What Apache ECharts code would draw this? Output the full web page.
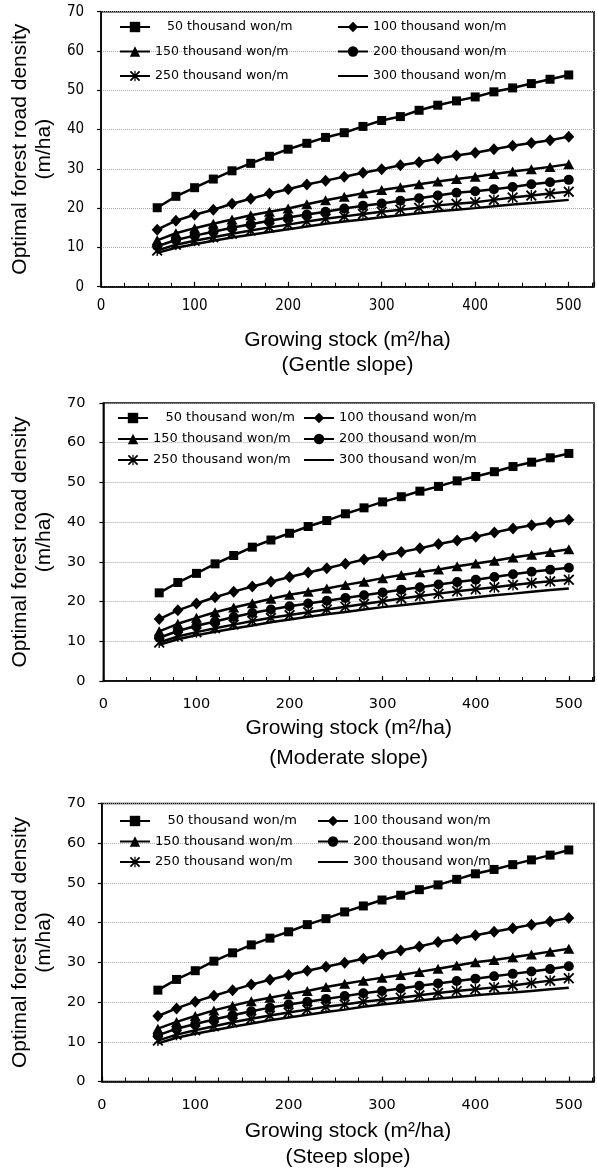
<!DOCTYPE html>
<html>
<head>
<meta charset="utf-8">
<script src="https://cdn.jsdelivr.net/npm/echarts@6/dist/echarts.min.js"></script>
<style>
  html, body { margin: 0; padding: 0; background: #fff; }
  #chart { width: 597px; height: 1176px; }
</style>
</head>
<body>
<div id="chart"></div>
<script>
// Growing stock (m³/ha) at which each road density was computed
const growingStock = [60, 80, 100, 120, 140, 160, 180, 200, 220, 240, 260, 280, 300, 320, 340, 360, 380, 400, 420, 440, 460, 480, 500];

// Road construction cost classes
const costLabels = ['50 thousand won/m', '100 thousand won/m', '150 thousand won/m',
                    '200 thousand won/m', '250 thousand won/m', '300 thousand won/m'];
const slopeLabels = ['(Gentle slope)', '(Moderate slope)', '(Steep slope)'];
const xAxisTitle = 'Growing stock (m\u00B2/ha)';
const yAxisTitle = 'Optimal forest road density\n(m/ha)';

// Optimal forest road density (m/ha), gentle slope
const gentle50  = [20.1, 23.0, 25.2, 27.4, 29.5, 31.4, 33.2, 35.0, 36.5, 38.0, 39.2, 40.8, 42.3, 43.3, 44.9, 46.2, 47.3, 48.3, 49.6, 50.6, 51.7, 52.8, 53.9];
const gentle100 = [14.5, 16.8, 18.3, 19.6, 21.1, 22.4, 23.7, 24.8, 26.0, 27.0, 28.0, 29.0, 29.9, 30.9, 31.7, 32.6, 33.4, 34.1, 35.0, 35.9, 36.6, 37.3, 38.2];
const gentle150 = [11.8, 13.6, 14.9, 16.0, 17.1, 18.2, 19.1, 19.9, 21.0, 22.0, 22.9, 23.8, 24.6, 25.3, 26.1, 26.8, 27.4, 28.0, 28.7, 29.3, 29.9, 30.5, 31.2];
const gentle200 = [10.3, 11.9, 13.0, 14.0, 15.0, 15.9, 16.8, 17.6, 18.4, 19.1, 19.9, 20.6, 21.2, 21.9, 22.5, 23.2, 23.9, 24.3, 24.8, 25.4, 26.1, 26.6, 27.2];
const gentle250 = [9.2, 10.7, 11.7, 12.6, 13.5, 14.3, 15.1, 15.8, 16.6, 17.3, 17.9, 18.5, 19.1, 19.6, 20.1, 20.7, 21.1, 21.5, 22.1, 22.7, 23.2, 23.7, 24.2];
const gentle300 = [8.6, 9.9, 10.8, 11.7, 12.5, 13.2, 13.9, 14.6, 15.3, 16.0, 16.6, 17.1, 17.7, 18.2, 18.7, 19.2, 19.6, 20.0, 20.5, 20.9, 21.3, 21.7, 22.1];

// Moderate slope
const moderate50  = [22.2, 24.8, 27.1, 29.5, 31.6, 33.7, 35.5, 37.2, 38.9, 40.4, 42.1, 43.6, 45.1, 46.4, 47.8, 49.0, 50.4, 51.5, 52.7, 54.0, 55.1, 56.2, 57.3];
const moderate100 = [15.6, 17.8, 19.5, 21.1, 22.5, 23.8, 25.0, 26.2, 27.3, 28.4, 29.5, 30.6, 31.6, 32.5, 33.4, 34.5, 35.4, 36.3, 37.4, 38.4, 39.2, 39.9, 40.6];
const moderate150 = [12.5, 14.4, 15.9, 17.3, 18.5, 19.6, 20.7, 21.7, 22.5, 23.3, 24.2, 25.0, 25.9, 26.7, 27.4, 28.1, 28.9, 29.6, 30.3, 31.1, 31.8, 32.5, 33.2];
const moderate200 = [10.9, 12.6, 13.9, 15.0, 16.1, 17.1, 18.0, 18.8, 19.5, 20.2, 20.9, 21.6, 22.3, 23.0, 23.6, 24.3, 24.9, 25.5, 26.2, 26.9, 27.5, 28.0, 28.5];
const moderate250 = [9.7, 11.2, 12.3, 13.3, 14.2, 15.1, 15.9, 16.6, 17.3, 18.0, 18.7, 19.4, 20.1, 20.8, 21.4, 22.0, 22.6, 23.1, 23.6, 24.2, 24.7, 25.1, 25.5];
const moderate300 = [9.1, 10.5, 11.5, 12.4, 13.2, 14.0, 14.8, 15.5, 16.2, 16.8, 17.4, 18.0, 18.6, 19.1, 19.6, 20.1, 20.6, 21.1, 21.6, 22.0, 22.5, 22.9, 23.3];

// Steep slope
const steep50  = [23.0, 25.7, 27.9, 30.3, 32.4, 34.4, 36.1, 37.7, 39.5, 41.0, 42.7, 44.2, 45.7, 46.9, 48.3, 49.5, 50.9, 52.3, 53.4, 54.6, 55.8, 57.0, 58.3];
const steep100 = [16.5, 18.4, 20.1, 21.6, 23.0, 24.4, 25.6, 26.8, 27.9, 28.9, 29.9, 30.9, 32.0, 33.0, 34.0, 35.1, 35.9, 36.8, 37.7, 38.6, 39.5, 40.3, 41.2];
const steep150 = [13.3, 15.0, 16.5, 17.9, 19.1, 20.2, 21.1, 22.0, 22.8, 23.8, 24.6, 25.4, 26.1, 26.8, 27.6, 28.4, 29.2, 30.0, 30.6, 31.3, 32.0, 32.7, 33.4];
const steep200 = [11.6, 13.3, 14.5, 15.6, 16.7, 17.7, 18.6, 19.4, 20.1, 20.8, 21.5, 22.2, 22.8, 23.4, 24.1, 24.7, 25.3, 25.9, 26.5, 27.1, 27.7, 28.3, 29.0];
const steep250 = [10.3, 11.8, 12.9, 13.9, 14.9, 15.8, 16.6, 17.4, 18.1, 18.8, 19.4, 20.1, 20.6, 21.1, 21.7, 22.3, 22.8, 23.2, 23.7, 24.2, 24.8, 25.4, 26.0];
const steep300 = [9.6, 11.0, 12.0, 12.9, 13.8, 14.6, 15.4, 16.1, 16.8, 17.5, 18.1, 18.8, 19.4, 19.9, 20.4, 20.9, 21.3, 21.7, 22.1, 22.4, 22.8, 23.2, 23.6];

const panelData = [
  [gentle50, gentle100, gentle150, gentle200, gentle250, gentle300],
  [moderate50, moderate100, moderate150, moderate200, moderate250, moderate300],
  [steep50, steep100, steep150, steep200, steep250, steep300]
];

// ---- styling / layout ----
const X_MAX = 527;
const asterisk = 'path://M8.8 0L11.2 0L11.2 20L8.8 20Z M0 2.4L2.4 0L20 17.6L17.6 20Z M17.6 0L20 2.4L2.4 20L0 17.6Z';
const markerSymbols = ['rect', 'diamond', 'triangle', 'circle', asterisk, 'none'];
const markerSizes = [9, [11, 12], [11, 10], 10, 11, 0];

const narrowFont = "'Liberation Sans Narrow', 'DejaVu Sans Condensed', 'Liberation Sans', sans-serif";
const layout = [
  { top: 11.7, height: 275, tickFont: narrowFont, tickSize: 15, xLabelMargin: 12, yLabelMargin: 17,
    nameGap: 41.5, nameLH: 25, legendTop: 20, legendGap: 10.5, legendSize: 12.6, col1: 119, col2: 337 },
  { top: 403, height: 278, tickFont: 'DejaVu Sans', tickSize: 14.5, xLabelMargin: 16, yLabelMargin: 18,
    nameGap: 30, nameLH: 30, legendTop: 411, legendGap: 7, legendSize: 13, col1: 117, col2: 303 },
  { top: 803.5, height: 278, tickFont: 'DejaVu Sans', tickSize: 14.5, xLabelMargin: 16, yLabelMargin: 16.5,
    nameGap: 37, nameLH: 25.5, legendTop: 814, legendGap: 6.5, legendSize: 13, col1: 119, col2: 317 }
];

const grids = [], xAxes = [], yAxes = [], series = [], legends = [];

layout.forEach((p, k) => {
  grids.push({
    left: 100.5, right: -3, top: p.top, height: p.height,
    show: true, borderColor: '#000', borderWidth: 1.5, backgroundColor: 'transparent'
  });
  xAxes.push({
    type: 'value', gridIndex: k, min: 0, max: X_MAX, interval: 100,
    name: xAxisTitle + '\n' + slopeLabels[k], nameLocation: 'middle', nameGap: p.nameGap,
    nameTextStyle: { fontFamily: 'Liberation Sans', fontSize: 21, color: '#000', lineHeight: p.nameLH },
    axisLine: { show: true, lineStyle: { color: '#000', width: 1.5 } },
    axisTick: { show: true, inside: true, length: 5, lineStyle: { color: '#000', width: 1.2 } },
    minorTick: { show: true, splitNumber: 4, length: 4, lineStyle: { color: '#000', width: 1 } },
    axisLabel: {
      margin: p.xLabelMargin, color: '#000', fontFamily: p.tickFont, fontSize: p.tickSize,
      formatter: v => (v % 100 === 0 ? String(v) : '')
    },
    splitLine: { show: false }
  });
  yAxes.push({
    type: 'value', gridIndex: k, min: 0, max: 70, interval: 10,
    name: yAxisTitle, nameLocation: 'middle', nameGap: 40,
    nameTextStyle: { fontFamily: 'Liberation Sans', fontSize: 21, color: '#000', lineHeight: 24 },
    axisLine: { show: true, lineStyle: { color: '#000', width: 1.5 } },
    axisTick: { show: true, inside: false, length: 4, lineStyle: { color: '#000', width: 1.2 } },
    axisLabel: { margin: p.yLabelMargin, color: '#000', fontFamily: p.tickFont, fontSize: p.tickSize },
    splitLine: { show: true, lineStyle: { color: '#aaa', type: 'dotted', width: 1 } }
  });

  panelData[k].forEach((values, s) => {
    series.push({
      type: 'line', name: costLabels[s], xAxisIndex: k, yAxisIndex: k,
      data: growingStock.map((g, i) => [g, values[i]]),
      symbol: markerSymbols[s], symbolSize: markerSizes[s], showSymbol: markerSymbols[s] !== 'none',
      lineStyle: { color: '#000', width: 2.5 },
      itemStyle: { color: '#000', borderWidth: 0 },
      emphasis: { disabled: true }, z: 2 + s
    });
  });

  // the last cost class is drawn as a plain line, so its legend key carries no marker
  const legendItem = name => (name === costLabels[5] ? { name, itemStyle: { opacity: 0 } } : { name });
  const legendCol = (names, left) => ({
    orient: 'vertical', left, top: p.legendTop, itemGap: p.legendGap,
    itemWidth: 30, itemHeight: 13, padding: 0, selectedMode: false,
    data: names.map(legendItem),
    formatter: n => (n === costLabels[0] ? '   ' + n : n),
    textStyle: { fontFamily: 'DejaVu Sans', fontSize: p.legendSize, color: '#000', lineHeight: 14 }
  });
  legends.push(legendCol([costLabels[0], costLabels[2], costLabels[4]], p.col1));
  legends.push(legendCol([costLabels[1], costLabels[3], costLabels[5]], p.col2));
});

const chart = echarts.init(document.getElementById('chart'), null, { renderer: 'canvas' });
chart.setOption({
  animation: false,
  backgroundColor: '#fff',
  grid: grids, xAxis: xAxes, yAxis: yAxes, legend: legends, series
});
</script>
</body>
</html>
